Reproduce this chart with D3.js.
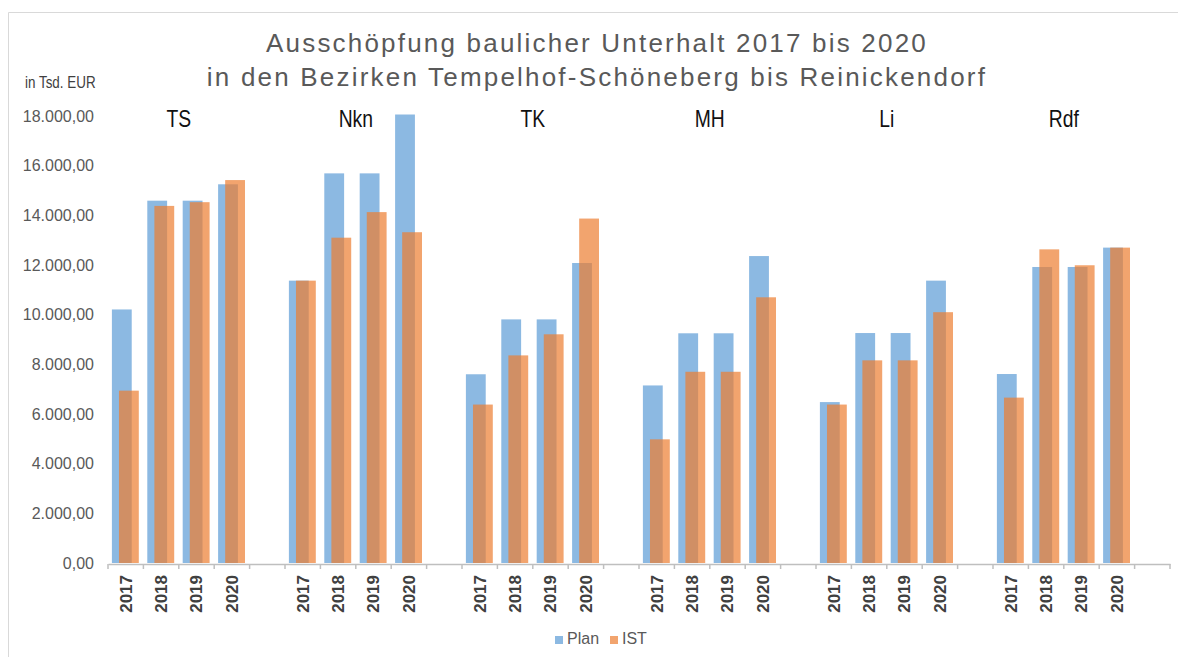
<!DOCTYPE html>
<html>
<head>
<meta charset="utf-8">
<script src="https://cdn.jsdelivr.net/npm/d3@7"></script>
<style>
  body { margin: 0; background: #fff; }
  svg { display: block; }
</style>
</head>
<body>
<script>
// Bezirke und Jahre
let districts = ['TS', 'Nkn', 'TK', 'MH', 'Li', 'Rdf'];
let years = ['2017', '2018', '2019', '2020'];

// Werte in Tsd. EUR, je Bezirk 2017..2020
let plan = [
  [10210, 14590, 14590, 15250],
  [11370, 15690, 15690, 18060],
  [7600, 9810, 9810, 12080],
  [7150, 9250, 9250, 12360],
  [6480, 9260, 9260, 11370],
  [7610, 11920, 11920, 12700]
];
let ist = [
  [6940, 14380, 14530, 15420],
  [11370, 13100, 14130, 13320],
  [6380, 8360, 9210, 13870],
  [4980, 7700, 7700, 10700],
  [6380, 8160, 8160, 10100],
  [6660, 12630, 11990, 12700]
];
let yTicks = [0, 2000, 4000, 6000, 8000, 10000, 12000, 14000, 16000, 18000];

let w = 1178, h = 657;

let svg = d3.select('body').append('svg')
  .attr('width', w)
  .attr('height', h);

// Rahmen
svg.append('path')
  .attr('d', `M8.5,${h} V12.5 H${w}`)
  .attr('fill', 'none')
  .attr('stroke', '#d9d9d9');

// Slots: 4 Jahre + 1 Lücke je Bezirk
let slots = [];
districts.forEach((d, i) => {
  years.forEach((y, j) => slots.push({ key: d + '|' + y, label: y, di: i, yi: j }));
  slots.push({ key: d + '|gap', label: '', di: i, yi: -1 });
});

let x = d3.scaleBand()
  .domain(slots.map(s => s.key))
  .range([108, 1170])
  .padding(0);

let y = d3.scaleLinear()
  .domain([0, 18000])
  .range([563, 116]);

let de = d3.formatLocale({ decimal: ',', thousands: '.', grouping: [3], currency: ['', ' EUR'] });
let fmt = de.format(',.2f');

// Titel
let title = svg.append('text')
  .attr('x', 597)
  .attr('text-anchor', 'middle')
  .style('font-family', 'Liberation Sans, Arial, sans-serif')
  .style('font-size', '26px')
  .style('letter-spacing', '2.2px')
  .attr('fill', '#595959');
title.append('tspan').attr('x', 597).attr('y', 52).text('Ausschöpfung baulicher Unterhalt 2017 bis 2020');
title.append('tspan').attr('x', 597).attr('y', 86).text('in den Bezirken Tempelhof-Schöneberg bis Reinickendorf');

svg.append('text')
  .text('in Tsd. EUR')
  .attr('transform', 'translate(25,88) scale(0.84,1)')
  .style('font-family', 'Liberation Sans, Arial, sans-serif')
  .style('font-size', '16px')
  .attr('fill', '#404040');

// Y-Achse
let yAxis = svg.append('g')
  .attr('transform', 'translate(94,0)')
  .call(d3.axisLeft(y).tickValues(yTicks).tickSize(0).tickPadding(0).tickFormat(fmt));
yAxis.select('.domain').remove();
yAxis.selectAll('text')
  .style('font-family', 'Liberation Sans, Arial, sans-serif')
  .style('font-size', '16px')
  .attr('fill', '#595959');

// Balken
let barW = x.bandwidth() * 0.56;
let planData = [], istData = [];
slots.forEach(s => {
  if (s.yi < 0) return;
  planData.push({ key: s.key, v: plan[s.di][s.yi] });
  istData.push({ key: s.key, v: ist[s.di][s.yi] });
});

svg.append('g').selectAll('rect')
  .data(planData)
  .enter()
  .append('rect')
  .attr('x', d => x(d.key) + x.bandwidth() * 0.11)
  .attr('y', d => y(d.v))
  .attr('width', barW)
  .attr('height', d => y(0) - y(d.v))
  .attr('fill', '#5B9BD5')
  .attr('fill-opacity', 0.7);

svg.append('g').selectAll('rect')
  .data(istData)
  .enter()
  .append('rect')
  .attr('x', d => x(d.key) + x.bandwidth() * 0.31)
  .attr('y', d => y(d.v))
  .attr('width', barW)
  .attr('height', d => y(0) - y(d.v))
  .attr('fill', '#ED7D31')
  .attr('fill-opacity', 0.7);

// X-Achse
let xAxis = svg.append('g')
  .attr('transform', 'translate(0,564)')
  .call(d3.axisBottom(x).tickSize(0).tickPadding(0).tickFormat(k => slots.find(s => s.key === k).label));
xAxis.select('.domain')
  .attr('stroke', '#bfbfbf')
  .attr('stroke-width', 1.5);
xAxis.selectAll('text')
  .attr('transform', 'rotate(-90)')
  .attr('x', -11)
  .attr('y', 0)
  .attr('dy', '0.35em')
  .attr('text-anchor', 'end')
  .style('font-family', 'Liberation Sans, Arial, sans-serif')
  .style('font-size', '17px')
  .style('font-weight', 'bold')
  .attr('fill', '#404040');

// Teilstriche an den Slotgrenzen
let bounds = slots.map(s => x(s.key)).concat([x.range()[1]]);
xAxis.selectAll('line.bound')
  .data(bounds)
  .enter()
  .append('line')
  .attr('class', 'bound')
  .attr('x1', d => d).attr('x2', d => d)
  .attr('y1', 0).attr('y2', 5)
  .attr('stroke', '#bfbfbf')
  .attr('stroke-width', 1.5);

// Bezirksnamen
svg.append('g').selectAll('text')
  .data(districts)
  .enter()
  .append('text')
  .text(d => d)
  .attr('transform', d => `translate(${x(d + '|2019')},127) scale(0.84,1)`)
  .attr('text-anchor', 'middle')
  .style('font-family', 'Liberation Sans, Arial, sans-serif')
  .style('font-size', '23px')
  .attr('fill', '#111');

// Legende
let legend = svg.append('g');
let legItems = [{ name: 'Plan', color: '#5B9BD5', x: 555 }, { name: 'IST', color: '#ED7D31', x: 610 }];
legItems.forEach(it => {
  legend.append('rect')
    .attr('x', it.x).attr('y', 636)
    .attr('width', 8).attr('height', 8)
    .attr('fill', it.color)
    .attr('fill-opacity', 0.7);
  legend.append('text')
    .text(it.name)
    .attr('x', it.x + 12)
    .attr('y', 644)
    .style('font-family', 'Liberation Sans, Arial, sans-serif')
    .style('font-size', '16px')
    .attr('fill', '#595959');
});
</script>
</body>
</html>
